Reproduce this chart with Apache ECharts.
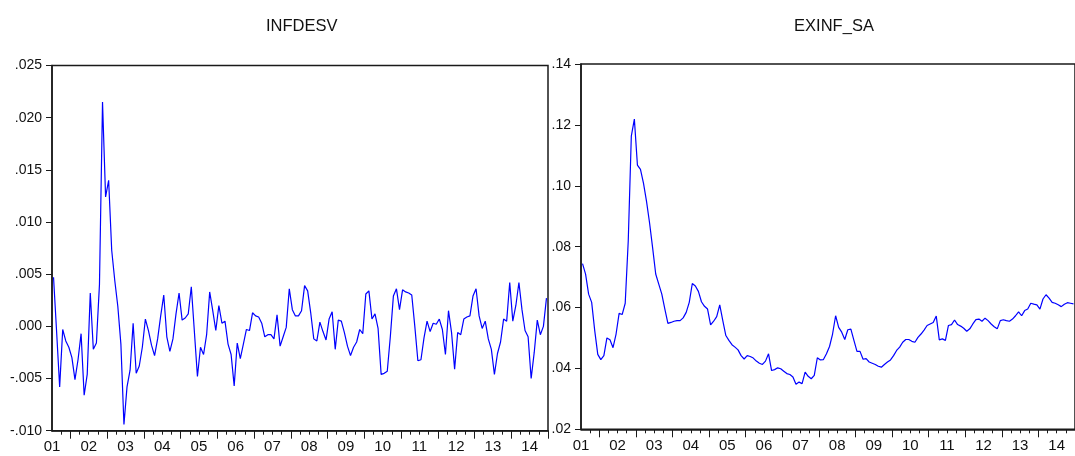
<!DOCTYPE html>
<html><head><meta charset="utf-8">
<script src="https://cdn.jsdelivr.net/npm/echarts@6/dist/echarts.min.js"></script>
<style>html,body{margin:0;padding:0;background:#fff}#c{width:1075px;height:456px}</style>
</head><body><div id="c"></div>
<script>
// Monthly data, 2001M01 .. 2014M06
const yearLabels = ['01','02','03','04','05','06','07','08','09','10','11','12','13','14'];
const titles = ['INFDESV', 'EXINF_SA'];

const infdesv = [
  0.0047,-0.0005,-0.0058,-0.0003,-0.0014,-0.0020,-0.0030,-0.0051,-0.0032,-0.0007,-0.0066,-0.0046,
  0.0032,-0.0022,-0.0016,0.0040,0.0215,0.0124,0.0140,0.0073,0.0044,0.0019,-0.0017,-0.0094,
  -0.0058,-0.0042,0.0003,-0.0045,-0.0038,-0.0020,0.0007,-0.0004,-0.0018,-0.0028,-0.0012,0.0010,
  0.0030,-0.0010,-0.0024,-0.0012,0.0012,0.0032,0.0006,0.0008,0.0012,0.0038,-0.0005,-0.0048,
  -0.0020,-0.0027,-0.0008,0.0033,0.0015,-0.0004,0.0020,0.0003,0.0005,-0.0017,-0.0027,-0.0057,
  -0.0016,-0.0031,-0.0017,-0.0003,-0.0004,0.0013,0.0010,0.0009,0.0003,-0.0010,-0.0008,-0.0008,
  -0.0012,0.0011,-0.0019,-0.0010,-0.0001,0.0036,0.0016,0.0010,0.0010,0.0015,0.0039,0.0034,
  0.0013,-0.0012,-0.0014,0.0004,-0.0005,-0.0013,0.0007,0.0014,-0.0022,0.0006,0.0005,-0.0006,
  -0.0019,-0.0028,-0.0020,-0.0015,-0.0003,-0.0007,0.0031,0.0034,0.0007,0.0012,-0.0002,-0.0046,
  -0.0045,-0.0043,-0.0010,0.0029,0.0036,0.0016,0.0035,0.0033,0.0032,0.0030,0.0000,-0.0033,
  -0.0032,-0.0011,0.0005,-0.0005,0.0003,0.0002,0.0007,-0.0003,-0.0027,0.0015,-0.0006,-0.0041,
  -0.0006,-0.0008,0.0007,0.0009,0.0010,0.0029,0.0036,0.0010,-0.0002,0.0005,-0.0012,-0.0022,
  -0.0046,-0.0026,-0.0015,0.0007,0.0005,0.0042,0.0005,0.0020,0.0042,0.0016,-0.0004,-0.0010,
  -0.0050,-0.0025,0.0006,-0.0008,0.0000,0.0027
];

const exinfSa = [
  0.0744,0.0710,0.0644,0.0617,0.0524,0.0446,0.0429,0.0442,0.0500,0.0494,0.0468,0.0513,
  0.0581,0.0577,0.0614,0.0820,0.1163,0.1219,0.1068,0.1054,0.1008,0.0948,0.0877,0.0795,
  0.0710,0.0677,0.0644,0.0595,0.0548,0.0551,0.0555,0.0557,0.0557,0.0566,0.0584,0.0617,
  0.0679,0.0671,0.0653,0.0619,0.0604,0.0595,0.0543,0.0555,0.0570,0.0609,0.0557,0.0508,
  0.0492,0.0478,0.0470,0.0461,0.0442,0.0431,0.0442,0.0439,0.0434,0.0424,0.0417,0.0413,
  0.0424,0.0448,0.0393,0.0396,0.0402,0.0399,0.0391,0.0383,0.0380,0.0372,0.0348,0.0355,
  0.0350,0.0388,0.0374,0.0366,0.0377,0.0435,0.0428,0.0429,0.0448,0.0472,0.0513,0.0573,
  0.0535,0.0519,0.0495,0.0527,0.0529,0.0492,0.0456,0.0456,0.0430,0.0432,0.0421,0.0417,
  0.0413,0.0407,0.0404,0.0413,0.0421,0.0428,0.0442,0.0459,0.0470,0.0486,0.0495,0.0495,
  0.0489,0.0486,0.0502,0.0513,0.0526,0.0541,0.0546,0.0551,0.0572,0.0494,0.0497,0.0492,
  0.0541,0.0544,0.0559,0.0544,0.0539,0.0532,0.0522,0.0530,0.0546,0.0560,0.0562,0.0555,
  0.0565,0.0557,0.0546,0.0537,0.0530,0.0557,0.0560,0.0557,0.0555,0.0562,0.0573,0.0586,
  0.0573,0.0590,0.0595,0.0614,0.0611,0.0609,0.0595,0.0628,0.0642,0.0631,0.0617,0.0614,
  0.0609,0.0603,0.0611,0.0616,0.0614,0.0612
];

const FAM = "'Liberation Sans', Arial, sans-serif";
const TITLE_SIZE = 16.5;
const YTICK_SIZE = 14;
const XTICK_SIZE = 15;

const N = infdesv.length;
const XMIN = -0.5, XMAX = N - 0.5;
const quarterTicks = [], julyTicks = [], janTicks = [];
for (let k = 1; 3 * k - 0.5 <= XMAX; k++) quarterTicks.push(3 * k - 0.5);
for (let k = 0; 12 * k + 5.5 <= XMAX; k++) julyTicks.push(12 * k + 5.5);
for (let k = 0; k < yearLabels.length; k++) janTicks.push(12 * k - 0.5);

function fmtY(v, dec) {
  let s = Math.abs(v).toFixed(dec);
  s = s.replace(/^0/, '');
  return (v < -1e-12 ? '-' : '') + s;
}

const AX = '#1a1a1a';
function xAxes(gridIndex) {
  return [
    {
      type: 'value', gridIndex, min: XMIN, max: XMAX, position: 'bottom',
      axisLine: { show: true, onZero: false, lineStyle: { color: AX, width: 1.5 } },
      axisTick: { show: true, length: 4, customValues: quarterTicks, lineStyle: { color: AX, width: 1 } },
      axisLabel: {
        show: true, customValues: janTicks, margin: 9,
        fontFamily: FAM, fontSize: XTICK_SIZE, color: '#111',
        formatter: v => yearLabels[Math.round((v + 0.5) / 12)] || ''
      },
      splitLine: { show: false }
    },
    {
      type: 'value', gridIndex, min: XMIN, max: XMAX, position: 'bottom', offset: 0,
      axisLine: { show: false, onZero: false },
      axisTick: { show: true, length: 8, customValues: julyTicks, lineStyle: { color: AX, width: 1 } },
      axisLabel: { show: false },
      splitLine: { show: false }
    }
  ];
}

function yAxis(gridIndex, min, max, interval, dec) {
  return {
    type: 'value', gridIndex, min, max, interval, position: 'left',
    axisLine: { show: true, onZero: false, lineStyle: { color: AX, width: 1.5 } },
    axisTick: { show: true, length: 6, inside: false, lineStyle: { color: AX, width: 1 } },
    axisLabel: { margin: 10, fontFamily: FAM, fontSize: YTICK_SIZE, color: '#111', formatter: v => fmtY(v, dec) },
    splitLine: { show: false }
  };
}

const chart = echarts.init(document.getElementById('c'), null, { renderer: 'canvas' });
chart.setOption({
  animation: false,
  backgroundColor: '#fff',
  grid: [
    { left: 52, top: 65.5, width: 496, height: 365.2, show: true, borderColor: AX, borderWidth: 1.5, backgroundColor: 'transparent' },
    { left: 581, top: 64, width: 506.25, height: 365.3, show: true, borderColor: AX, borderWidth: 1.5, backgroundColor: 'transparent' }
  ],
  xAxis: [...xAxes(0), ...xAxes(1)],
  yAxis: [yAxis(0, -0.010, 0.025, 0.005, 3), yAxis(1, 0.02, 0.14, 0.02, 2)],
  graphic: [
    { type: 'text', x: 301.7, y: 26.5, style: { text: titles[0], fontFamily: FAM, fontSize: TITLE_SIZE, fill: '#111', textAlign: 'center', textVerticalAlign: 'middle' } },
    { type: 'text', x: 834, y: 26.5, style: { text: titles[1], fontFamily: FAM, fontSize: TITLE_SIZE, fill: '#111', textAlign: 'center', textVerticalAlign: 'middle' } }
  ],
  series: [
    { type: 'line', xAxisIndex: 0, yAxisIndex: 0, data: infdesv.map((v, i) => [i, v]), symbol: 'none', lineStyle: { color: '#0000ff', width: 1.2 }, clip: true },
    { type: 'line', xAxisIndex: 2, yAxisIndex: 1, data: exinfSa.map((v, i) => [i, v]), symbol: 'none', lineStyle: { color: '#0000ff', width: 1.2 }, clip: true }
  ]
});
</script>
</body></html>
